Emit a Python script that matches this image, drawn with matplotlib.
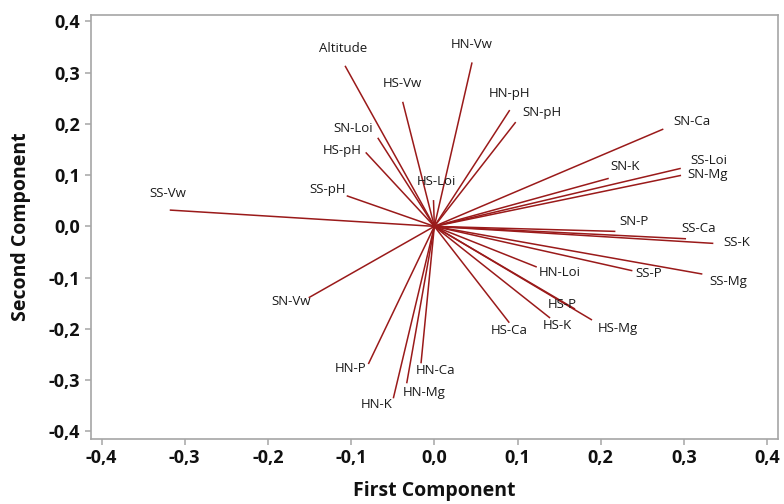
import numpy as np
import matplotlib
matplotlib.use('Agg')
from matplotlib import pyplot as plt

#%% loadings of the first two components

variables = ['Altitude', 'HN-Vw', 'HS-Vw', 'HN-pH', 'SN-pH', 'SN-Loi', 'HS-pH',
             'HS-Loi', 'SS-pH', 'SS-Vw', 'SN-Ca', 'SS-Loi', 'SN-Mg', 'SN-K',
             'SN-P', 'SS-Ca', 'SS-K', 'SS-P', 'SS-Mg', 'HN-Loi', 'HS-Mg', 'HS-P',
             'HS-K', 'HS-Ca', 'HN-Ca', 'HN-Mg', 'HN-K', 'HN-P', 'SN-Vw']

pc1 = [-0.1073, 0.0453, -0.0380, 0.0906, 0.0978, -0.0680, -0.0825,
       -0.0010, -0.1053, -0.3180, 0.2752, 0.2962, 0.2965, 0.2096,
       0.2176, 0.3025, 0.3353, 0.2380, 0.3221, 0.1231, 0.1895, 0.1691,
       0.1391, 0.0901, -0.0160, -0.0332, -0.0493, -0.0793, -0.1510]

pc2 = [0.3134, 0.3200, 0.2431, 0.2269, 0.2035, 0.1729, 0.1444,
       0.0513, 0.0597, 0.0318, 0.1899, 0.1132, 0.0995, 0.0937,
       -0.0098, -0.0242, -0.0332, -0.0866, -0.0931, -0.0794, -0.1828, -0.1614,
       -0.1789, -0.1881, -0.2673, -0.3063, -0.3356, -0.2687, -0.1393]

ticks = [-0.4, -0.3, -0.2, -0.1, 0.0, 0.1, 0.2, 0.3, 0.4]

# label offsets from the end of each line, in pixels (right, down)
label_shift = {'Altitude': (-2, -17), 'HN-Vw': (0, -18), 'HS-Vw': (0, -18),
               'HN-pH': (0, -17), 'SN-pH': (26, -10), 'SN-Loi': (-25, -9),
               'HS-pH': (-24, -2), 'HS-Loi': (3, -19), 'SS-pH': (-19, -6),
               'SS-Vw': (-2, -17), 'SN-Ca': (29, -8), 'SS-Loi': (28, -8),
               'SN-Mg': (27, -1), 'SN-K': (16, -12), 'SN-P': (19, -10),
               'SS-Ca': (13, -10), 'SS-K': (23, -1), 'SS-P': (16, 3),
               'SS-Mg': (26, 7), 'HN-Loi': (23, 5), 'HS-Mg': (26, 8),
               'HS-P': (-13, -5), 'HS-K': (7, 7), 'HS-Ca': (0, 8),
               'HN-Ca': (15, 7), 'HN-Mg': (17, 9), 'HN-K': (-17, 6),
               'HN-P': (-18, 4), 'SN-Vw': (-18, 4)}

#%%

plt.rcParams['font.family'] = ['Open Sans', 'DejaVu Sans']

fig = plt.figure(figsize=(7.84, 5.04), dpi=100)
ax = fig.add_axes([0.116, 0.129, 0.876, 0.841])

line_color = '#9a1a1a'
frame_color = '#a6a6a6'

for name, x, y in zip(variables, pc1, pc2):
    ax.plot([0, x], [0, y], color=line_color, linewidth=1.1, solid_capstyle='butt')
    dx, dy = label_shift[name]
    ax.annotate(name, (x, y), xytext=(dx * 0.72, -dy * 0.72),
                textcoords='offset points', ha='center', va='center',
                fontsize=9.5, color='#1a1a1a')

ax.set_xlim(-0.4127, 0.4127)
ax.set_ylim(-0.415, 0.4123)
ax.set_xticks(ticks)
ax.set_yticks(ticks)
tick_text = [('%.1f' % t).replace('.', ',') for t in ticks]
tick_text = [t.replace('-0,0', '0,0') for t in tick_text]
ax.set_xticklabels(tick_text, fontsize=13, fontweight='bold')
ax.set_yticklabels(tick_text, fontsize=13, fontweight='bold')

for side in ax.spines:
    ax.spines[side].set_color(frame_color)
    ax.spines[side].set_linewidth(1.2)
ax.tick_params(direction='out', length=4, width=1.1, color=frame_color,
               labelcolor='#111111')
ax.tick_params(axis='x', pad=3)
ax.tick_params(axis='y', pad=4)

# axis titles placed on the figure
fig.text(434.5 / 784, 1 - 496 / 504, 'First Component', ha='center',
         va='baseline', fontsize=14, fontweight='bold', color='#111111')
fig.text(21.5 / 784, 1 - 227 / 504, 'Second Component', ha='center',
         va='center', rotation=90, fontsize=14, fontweight='bold',
         color='#111111')

fig.savefig('out.png', dpi=100)
